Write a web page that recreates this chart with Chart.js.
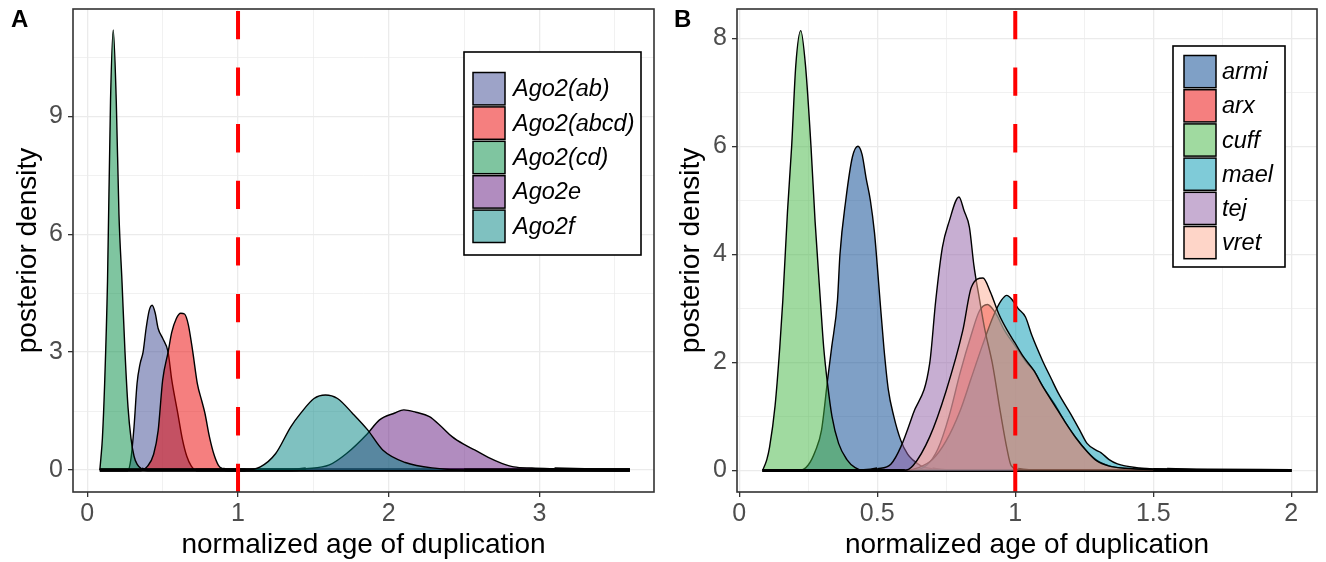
<!DOCTYPE html>
<html>
<head>
<meta charset="utf-8">
<script src="https://cdn.jsdelivr.net/npm/chart.js@4.4.1/dist/chart.umd.min.js"></script>
<style>
  html, body { margin: 0; padding: 0; background: #fff; }
  #wrap { position: relative; width: 1326px; height: 562px; }
  canvas { position: absolute; top: 0; }
  #chartA { left: 0; }
  #chartB { left: 663px; }
</style>
</head>
<body>
<div id="wrap">
  <canvas id="chartA" width="663" height="562"></canvas>
  <canvas id="chartB" width="663" height="562"></canvas>
</div>
<script>
const FONT = '"Liberation Sans", Arial, Helvetica, sans-serif';

// ---- panel A data ----
const namesA = ['Ago2(ab)', 'Ago2(abcd)', 'Ago2(cd)', 'Ago2e', 'Ago2f'];
const ago2abX   = [0.083, 0.27, 0.29, 0.31, 0.33, 0.35, 0.37, 0.39, 0.41, 0.43, 0.45, 0.47, 0.50, 0.536, 0.56, 0.60, 0.63, 0.66, 0.69, 0.72, 3.6];
const ago2abY   = [0, 0, 0.3, 1.1, 2.2, 2.7, 3.0, 3.6, 4.05, 4.19, 4.0, 3.6, 3.35, 3.0, 2.3, 1.45, 0.8, 0.35, 0.1, 0, 0];
const ago2abcdX = [0.083, 0.36, 0.40, 0.44, 0.47, 0.50, 0.536, 0.56, 0.59, 0.62, 0.645, 0.67, 0.70, 0.73, 0.76, 0.78, 0.81, 0.84, 0.87, 0.90, 0.93, 3.6];
const ago2abcdY = [0, 0, 0.1, 0.4, 1.0, 2.29, 3.0, 3.5, 3.85, 3.99, 3.97, 3.7, 3.0, 2.2, 1.75, 1.45, 0.85, 0.4, 0.12, 0.03, 0, 0];
const ago2cdX   = [0.083, 0.09, 0.10, 0.115, 0.134, 0.154, 0.172, 0.192, 0.21, 0.23, 0.25, 0.27, 0.29, 0.31, 0.33, 0.36, 0.40, 3.6];
const ago2cdY   = [0, 0.3, 0.8, 2.2, 4.8, 9.4, 11.2, 9.4, 6.5, 4.8, 3.0, 1.6, 0.8, 0.35, 0.15, 0.03, 0, 0];
const ago2eX    = [0.083, 1.35, 1.45, 1.606, 1.72, 1.86, 1.937, 2.04, 2.10, 2.18, 2.27, 2.35, 2.42, 2.50, 2.57, 2.66, 2.75, 2.83, 2.95, 3.1, 3.3, 3.5, 3.6];
const ago2eY    = [0, 0, 0.03, 0.13, 0.42, 0.93, 1.27, 1.45, 1.53, 1.47, 1.36, 1.1, 0.85, 0.65, 0.51, 0.32, 0.17, 0.08, 0.05, 0.03, 0.01, 0, 0];
const ago2fX    = [0.083, 1.05, 1.148, 1.25, 1.35, 1.415, 1.504, 1.58, 1.66, 1.76, 1.86, 1.96, 2.11, 2.32, 2.5, 3.6];
const ago2fY    = [0, 0, 0.08, 0.42, 1.10, 1.44, 1.82, 1.91, 1.82, 1.44, 1.02, 0.51, 0.19, 0.04, 0, 0];
const xTicksA = [0, 1, 2, 3];
const yTicksA = [0, 3, 6, 9];
const xMinorA = [0.5, 1.5, 2.5, 3.5];
const yMinorA = [1.5, 4.5, 7.5, 10.5];

// ---- panel B data ----
const namesB = ['armi', 'arx', 'cuff', 'mael', 'tej', 'vret'];
const armiX = [0.085, 0.22, 0.25, 0.275, 0.298, 0.32, 0.335, 0.356, 0.365, 0.386, 0.41, 0.43, 0.445, 0.46, 0.475, 0.49, 0.50, 0.51, 0.524, 0.54, 0.56, 0.585, 0.61, 0.63, 0.66, 0.70, 0.75, 2.0];
const armiY = [0, 0, 0.1, 0.35, 0.74, 1.67, 2.28, 3.15, 4.0, 5.0, 5.8, 6.0, 5.85, 5.4, 5.0, 4.4, 3.8, 3.15, 2.28, 1.5, 1.0, 0.56, 0.3, 0.19, 0.08, 0.03, 0, 0];
const arxX  = [0.085, 0.62, 0.68, 0.72, 0.76, 0.80, 0.84, 0.87, 0.899, 0.93, 0.96, 1.0, 1.04, 1.067, 1.10, 1.143, 1.18, 1.22, 1.26, 1.30, 1.35, 1.45, 1.6, 2.0];
const arxY  = [0, 0, 0.1, 0.4, 1.0, 1.8, 2.5, 2.95, 3.07, 2.9, 2.6, 2.3, 2.0, 1.85, 1.55, 1.22, 0.9, 0.6, 0.35, 0.17, 0.07, 0.02, 0, 0];
const cuffX = [0.085, 0.10, 0.11, 0.13, 0.147, 0.158, 0.175, 0.19, 0.205, 0.223, 0.24, 0.26, 0.275, 0.294, 0.306, 0.32, 0.336, 0.36, 0.39, 0.42, 0.45, 2.0];
const cuffY = [0, 0.2, 0.43, 1.2, 2.28, 3.15, 4.8, 6.0, 7.5, 8.14, 7.5, 6.0, 4.6, 3.15, 2.28, 1.6, 1.0, 0.5, 0.2, 0.05, 0, 0];
const maelX = [0.085, 0.60, 0.65, 0.70, 0.75, 0.80, 0.84, 0.88, 0.92, 0.95, 0.969, 0.99, 1.01, 1.037, 1.06, 1.098, 1.13, 1.157, 1.20, 1.234, 1.26, 1.294, 1.31, 1.34, 1.37, 1.44, 1.55, 1.7, 2.0];
const maelY = [0, 0, 0.05, 0.2, 0.55, 1.1, 1.7, 2.3, 2.85, 3.15, 3.24, 3.15, 3.0, 2.84, 2.5, 2.04, 1.7, 1.42, 1.05, 0.74, 0.5, 0.37, 0.33, 0.2, 0.12, 0.05, 0.02, 0.005, 0];
const tejX  = [0.085, 0.45, 0.50, 0.55, 0.585, 0.63, 0.69, 0.712, 0.736, 0.76, 0.796, 0.815, 0.834, 0.85, 0.871, 0.89, 0.917, 0.947, 0.97, 0.985, 1.01, 1.05, 2.0];
const tejY  = [0, 0, 0.03, 0.12, 0.43, 1.05, 1.98, 3.15, 4.13, 4.6, 5.06, 4.8, 4.5, 3.8, 3.15, 2.6, 1.98, 1.05, 0.4, 0.09, 0.02, 0, 0];
const vretX = [0.085, 0.60, 0.63, 0.69, 0.75, 0.81, 0.841, 0.883, 0.91, 0.94, 0.97, 1.0, 1.03, 1.067, 1.10, 1.143, 1.18, 1.22, 1.26, 1.294, 1.34, 1.40, 1.50, 1.70, 2.0];
const vretY = [0, 0, 0.09, 0.62, 1.48, 2.59, 3.39, 3.56, 3.3, 2.9, 2.6, 2.35, 2.1, 1.85, 1.55, 1.2, 0.9, 0.6, 0.35, 0.18, 0.08, 0.04, 0.015, 0, 0];
const xTicksB = [0, 0.5, 1, 1.5, 2];
const yTicksB = [0, 2, 4, 6, 8];
const xMinorB = [0.25, 0.75, 1.25, 1.75];
const yMinorB = [1, 3, 5, 7];

const colorsA = ['rgba(59,71,145,0.5)', 'rgba(235,0,0,0.5)', 'rgba(0,140,66,0.5)', 'rgba(99,25,127,0.5)', 'rgba(0,131,129,0.5)'];
const colorsB = ['rgba(0,65,141,0.5)', 'rgba(235,0,0,0.5)', 'rgba(65,181,65,0.5)', 'rgba(0,151,177,0.5)', 'rgba(143,93,165,0.5)', 'rgba(253,171,145,0.5)'];

function makeSets(names, xs, ys, colors) {
  return names.map((n, i) => ({
    label: n,
    data: xs[i].map((x, j) => ({ x: x, y: ys[i][j] })),
    backgroundColor: colors[i],
    borderColor: '#000',
    borderWidth: 1.4,
    // the flat near-zero stretches make up the heavy base line
    segment: { borderWidth: c => (c.p0.parsed.y < 0.04 && c.p1.parsed.y < 0.04) ? 3 : 1.4 },
    fill: 'origin',
    pointRadius: 0,
    cubicInterpolationMode: 'monotone',
    order: names.length - i
  }));
}

const isIn = (arr, v) => arr.some(m => Math.abs(m - v) < 1e-9);

// border, dashed line at x = 1, legend box, panel tag
const panelDecor = {
  id: 'panelDecor',
  afterDatasetsDraw(chart, args, opts) {
    const { ctx, chartArea: a, scales: { x } } = chart;
    const px = x.getPixelForValue(opts.vline);
    ctx.save();
    ctx.strokeStyle = '#FF0000';
    ctx.lineWidth = 4;
    ctx.setLineDash([28.3, 28.3]);
    ctx.beginPath();
    ctx.moveTo(px, a.bottom);
    ctx.lineTo(px, a.top);
    ctx.stroke();
    ctx.restore();
  },
  afterDraw(chart, args, opts) {
    const { ctx, chartArea: a } = chart;
    ctx.save();
    ctx.strokeStyle = '#333333';
    ctx.lineWidth = 1.6;
    ctx.strokeRect(a.left, a.top, a.right - a.left, a.bottom - a.top);

    ctx.fillStyle = '#000';
    ctx.font = 'bold 24px ' + FONT;
    ctx.textAlign = 'left';
    ctx.textBaseline = 'alphabetic';
    ctx.fillText(opts.tag, 11, 27);

    const L = opts.legend;
    ctx.fillStyle = '#fff';
    ctx.fillRect(L.x, L.y, L.w, L.h);
    ctx.strokeStyle = '#000';
    ctx.lineWidth = 1.6;
    ctx.strokeRect(L.x, L.y, L.w, L.h);
    chart.data.datasets.forEach((ds, i) => {
      const ry = L.rowTop + i * L.rowH;
      ctx.fillStyle = ds.backgroundColor;
      ctx.fillRect(L.keyX, ry, L.keyW, L.rowH - 2);
      ctx.strokeStyle = '#000';
      ctx.lineWidth = 1.5;
      ctx.strokeRect(L.keyX, ry, L.keyW, L.rowH - 2);
      ctx.fillStyle = '#000';
      ctx.font = 'italic 23.5px ' + FONT;
      ctx.textBaseline = 'middle';
      ctx.fillText(ds.label, L.textX, ry + L.rowH / 2);
    });
    ctx.restore();
  }
};

function axis(range, majors, minors, isX, yAxisWidth) {
  const all = majors.concat(minors).sort((a, b) => a - b);
  return {
    type: 'linear',
    min: range[0],
    max: range[1],
    afterBuildTicks: s => { s.ticks = all.map(v => ({ value: v })); },
    afterFit: s => {
      if (isX) { s.height = 70; s.paddingLeft = 0; s.paddingRight = 0; }
      else { s.width = yAxisWidth; s.paddingTop = 0; s.paddingBottom = 0; }
    },
    border: { display: false },
    grid: {
      color: '#EBEBEB',
      lineWidth: c => isIn(majors, c.tick.value) ? 1.3 : 0.7,
      tickColor: c => isIn(majors, c.tick.value) ? '#333333' : 'rgba(0,0,0,0)',
      tickLength: 5,
      tickWidth: 1.3
    },
    ticks: {
      autoSkip: false,
      maxRotation: 0,
      padding: isX ? 2 : 5,
      color: '#4D4D4D',
      font: { family: FONT, size: 25 },
      callback: v => isIn(majors, v) ? String(v) : ''
    },
    title: isX
      ? { display: true, text: 'normalized age of duplication', color: '#000', font: { family: FONT, size: 28, lineHeight: 1.2 }, padding: { top: 0, bottom: 0 } }
      : { display: true, text: 'posterior density', color: '#000', font: { family: FONT, size: 28, lineHeight: 1.2 }, padding: { top: 11, bottom: 0 } }
  };
}

function makeChart(id, sets, xr, yr, xt, xm, yt, ym, yw, decor) {
  return new Chart(document.getElementById(id), {
    type: 'line',
    data: { datasets: sets },
    options: {
      responsive: false,
      animation: false,
      events: [],
      layout: { padding: { top: 9, right: 9, left: 0, bottom: 0 } },
      scales: {
        x: axis(xr, xt, xm, true),
        y: axis(yr, yt, ym, false, yw)
      },
      plugins: {
        legend: { display: false },
        tooltip: { enabled: false },
        panelDecor: decor
      }
    },
    plugins: [panelDecor]
  });
}

makeChart('chartA',
  makeSets(namesA, [ago2abX, ago2abcdX, ago2cdX, ago2eX, ago2fX], [ago2abY, ago2abcdY, ago2cdY, ago2eY, ago2fY], colorsA),
  [-0.095, 3.76], [-0.56, 11.73], xTicksA, xMinorA, yTicksA, yMinorA, 73,
  { vline: 1, tag: 'A', legend: { x: 464, y: 52, w: 177, h: 203, keyX: 473, keyW: 32, rowTop: 72.5, rowH: 34.4, textX: 513 } });

makeChart('chartB',
  makeSets(namesB, [armiX, arxX, cuffX, maelX, tejX, vretX], [armiY, arxY, cuffY, maelY, tejY, vretY], colorsB),
  [-0.008, 2.093], [-0.40, 8.54], xTicksB, xMinorB, yTicksB, yMinorB, 74,
  { vline: 1, tag: 'B', legend: { x: 510, y: 46, w: 112, h: 221, keyX: 521, keyW: 32, rowTop: 55.5, rowH: 34.2, textX: 559 } });
</script>
</body>
</html>
